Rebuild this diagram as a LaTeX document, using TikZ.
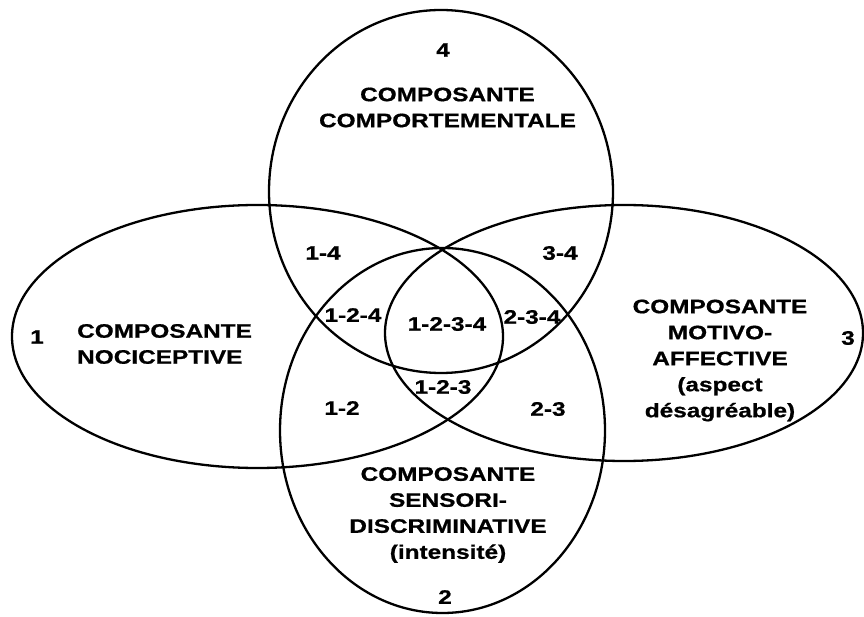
\documentclass[tikz,border=0pt]{standalone}
\usepackage{fontspec}
\newfontfamily\vennfont{Liberation Sans}[FakeStretch=1.25, BoldFeatures={FakeBold=0.8}]
\tikzset{
  lbl/.style={font=\vennfont\bfseries\fontsize{19.5}{26}\selectfont, inner sep=0pt, align=center},
  shapeline/.style={draw=black, line width=2.3pt}
}
\begin{document}
\begin{tikzpicture}[x=1pt,y=1pt]
\useasboundingbox (0,0) rectangle (864,616);
% shapes
\draw[shapeline] (257.5,279.5) ellipse [x radius=245.5, y radius=131.5];
\draw[shapeline] (624,283) ellipse [x radius=239, y radius=128];
\draw[shapeline] (441,424.5) ellipse [x radius=172, y radius=181.5];
\draw[shapeline] (442.5,185.5) ellipse [x radius=162.5, y radius=182.5];
% main labels
\node[lbl] (n4) at (443,566) {4};
\node[lbl] (c4) at (447.5,508.5) {COMPOSANTE\\COMPORTEMENTALE};
\node[lbl] (n1) at (37,279) {1};
\node[lbl, anchor=west, align=left] (c1) at (77,272) {COMPOSANTE\\NOCICEPTIVE};
\node[lbl] (c3) at (720,255.5) {COMPOSANTE\\MOTIVO-\\AFFECTIVE\\(aspect\\désagréable)};
\node[lbl] (n3) at (848,278) {3};
\node[lbl] (c2) at (448,101) {COMPOSANTE\\SENSORI-\\DISCRIMINATIVE\\(intensité)};
\node[lbl] (n2) at (445,19) {2};
% intersections
\node[lbl] (r14) at (323,363) {1-4};
\node[lbl] (r124) at (353,301) {1-2-4};
\node[lbl] (r34) at (560,363) {3-4};
\node[lbl] (r234) at (532,299) {2-3-4};
\node[lbl] (r1234) at (447,292) {1-2-3-4};
\node[lbl] (r123) at (443,229) {1-2-3};
\node[lbl] (r12) at (342,208) {1-2};
\node[lbl] (r23) at (548,207) {2-3};
\end{tikzpicture}
\end{document}
